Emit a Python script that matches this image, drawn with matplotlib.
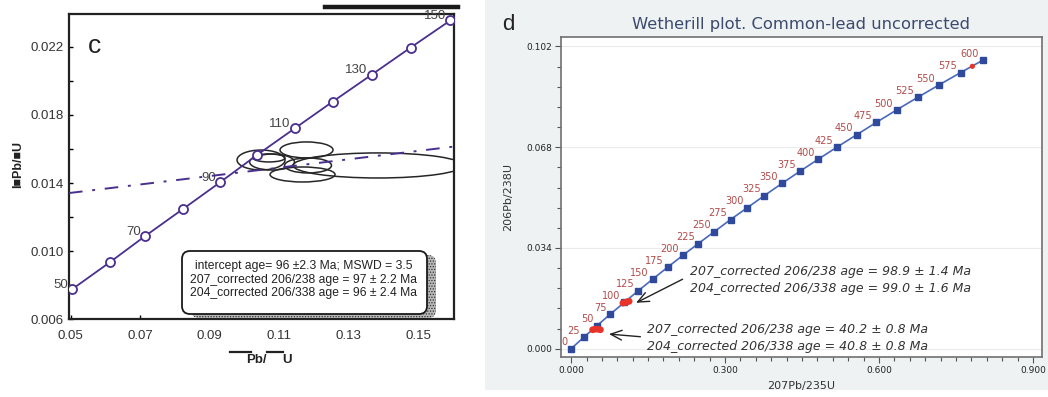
import numpy as np
import matplotlib
matplotlib.use("Agg")
import matplotlib.pyplot as plt
from matplotlib import ticker, font_manager
from matplotlib.patches import Ellipse, FancyBboxPatch, Rectangle
from matplotlib.lines import Line2D

names = {f.name for f in font_manager.fontManager.ttflist}
narrow = "Liberation Sans Narrow" if "Liberation Sans Narrow" in names else "Liberation Sans"
plt.rcParams["hatch.linewidth"] = 0.6

# ---- panel c : concordia, ages in Ma
c_age = [50, 60, 70, 80, 90, 100, 110, 120, 130, 140, 150]
c_x = [0.0505, 0.0612, 0.0715, 0.0822, 0.0929, 0.1035, 0.1144, 0.1254, 0.1366, 0.1478, 0.1592]
c_y = [0.00778, 0.00934, 0.01090, 0.01246, 0.01403, 0.01563, 0.01720, 0.01878, 0.02036, 0.02195, 0.02354]
c_labelled = [50, 70, 90, 110, 130, 150]
# discordia (dash-dot)
disc_x = [0.0495, 0.1603]
disc_y = [0.01341, 0.01614]
# error ellipses
ell_x = [0.10475, 0.10705, 0.11784, 0.11669, 0.13841, 0.11827, 0.10792]
ell_y = [0.01535, 0.01547, 0.01594, 0.01450, 0.01503, 0.01503, 0.01523]
ell_w = [0.0138, 0.0092, 0.01525, 0.0187, 0.0489, 0.0135, 0.0129]
ell_h = [0.00117, 0.00047, 0.00094, 0.00088, 0.00147, 0.00088, 0.00094]
c_xticks = [0.05, 0.07, 0.09, 0.11, 0.13, 0.15]
c_yticks = [0.006, 0.010, 0.014, 0.018, 0.022]
c_yminor = [0.008, 0.012, 0.016, 0.020]
c_box_lines = ["intercept age= 96 \u00b12.3 Ma; MSWD = 3.5",
               "207_corrected 206/238 age = 97 \u00b1 2.2 Ma",
               "204_corrected 206/338 age = 96 \u00b1 2.4 Ma"]

# ---- panel d : Wetherill concordia every 25 Ma
d_age = [0, 25, 50, 75, 100, 125, 150, 175, 200, 225, 250, 275, 300,
         325, 350, 375, 400, 425, 450, 475, 500, 525, 550, 575, 600]
d_x = [0.0, 0.0249, 0.0505, 0.0767, 0.1035, 0.1311, 0.1592, 0.1881, 0.2177, 0.2480,
       0.2790, 0.3108, 0.3434, 0.3768, 0.4110, 0.4460, 0.4819, 0.5186, 0.5563, 0.5949,
       0.6344, 0.6750, 0.7165, 0.7590, 0.8025]
d_y = [0.0, 0.0039, 0.0078, 0.0117, 0.0156, 0.0196, 0.0235, 0.0275, 0.0315, 0.0355,
       0.0395, 0.0436, 0.0476, 0.0517, 0.0558, 0.0599, 0.0640, 0.0681, 0.0722, 0.0764,
       0.0806, 0.0848, 0.0890, 0.0932, 0.0974]
red_x = [0.042, 0.047, 0.052, 0.057, 0.101, 0.105, 0.109, 0.113]
red_y = [0.0064, 0.0066, 0.0066, 0.0064, 0.0154, 0.0156, 0.0158, 0.0160]
red_small_x = [0.7818]
red_small_y = [0.0953]
note1 = ["207_corrected 206/238 age = 98.9 \u00b1 1.4 Ma",
         "204_corrected 206/338 age = 99.0 \u00b1 1.6 Ma"]
note1_x, note1_y = 0.2313, [0.02592, 0.02031]
arrow1_head, arrow1_tail = (0.1266, 0.01549), (0.2172, 0.02345)
note2 = ["207_corrected 206/238 age = 40.2 \u00b1 0.8 Ma",
         "204_corrected 206/338 age = 40.8 \u00b1 0.8 Ma"]
note2_x, note2_y = 0.1469, [0.00651, 0.0009]
arrow2_head, arrow2_tail = (0.0738, 0.00494), (0.1350, 0.00404)

W, H = 1048, 397
purple = "#4a2f8f"

fig = plt.figure(figsize=(W/100, H/100), dpi=100)
fig.patches.append(Rectangle((485/W, 7/H), 563/W, 390/H, transform=fig.transFigure,
                             facecolor="#eef2f3", edgecolor="none", zorder=-10))

# ================= panel c
axc = fig.add_axes([69/W, 1-319.3/H, 385/W, 305.3/H])
axc.set_xlim(0.0495, 0.16027)
axc.set_ylim(0.006, 0.02392)
for x, y, w, h in zip(ell_x, ell_y, ell_w, ell_h):
    axc.add_patch(Ellipse((x, y), w, h, fill=False, ec="#262626", lw=1.1, zorder=3))
axc.plot(c_x, c_y, color=purple, lw=1.3, marker="o", ms=6.5, mfc="white",
         mec=purple, mew=1.3, zorder=4)
axc.plot(disc_x, disc_y, color=purple, lw=1.4, linestyle=(0, (7, 5, 1.5, 5)), zorder=5)
for a, x, y in zip(c_age, c_x, c_y):
    if a in c_labelled:
        axc.annotate(str(a), (x, y), xytext=(-3, 3), textcoords="offset points",
                     ha="right", va="center", fontsize=9.5, color="#444444", family=narrow)
axc.set_xticks(c_xticks, ["%.2f" % v for v in c_xticks])
axc.set_yticks(c_yticks, ["%.3f" % v for v in c_yticks])
axc.yaxis.set_minor_locator(ticker.FixedLocator(c_yminor))
axc.tick_params(which="both", direction="in", length=3, width=1, labelsize=9.5,
                labelcolor="#333333")
axc.tick_params(axis="x", pad=8)
axc.tick_params(axis="y", pad=4)
for lab in axc.get_xticklabels() + axc.get_yticklabels():
    lab.set_family(narrow)
for s in axc.spines.values():
    s.set_linewidth(1.6)
    s.set_color("#222222")
axc.text(0.0675, 0.895, "c", transform=axc.transAxes, fontsize=19, ha="center",
         va="center", family="Liberation Sans", color="#222222")

fig.text(18/W, 1-165/H, "I\u25a0Pb/\u25a0U", rotation=90, ha="center", va="center",
         fontsize=9, fontweight="bold", family=["Liberation Sans", "DejaVu Sans"], color="#222222")
fig.text(256/W, 1-360/H, "Pb/", ha="center", va="center", fontsize=9.5,
         fontweight="bold", family=narrow, color="#222222")
fig.text(287/W, 1-360/H, "U", ha="center", va="center", fontsize=9.5,
         fontweight="bold", family=narrow, color="#222222")
fig.add_artist(Line2D([230/W, 250.7/W], [1-351.7/H]*2, color="#222222", lw=1.6))
fig.add_artist(Line2D([266.7/W, 283.3/W], [1-351.7/H]*2, color="#222222", lw=1.6))
fig.add_artist(Line2D([325/W, 458/W], [1-7/H]*2, color="#1a1a1a", lw=3.2))

# legend-like box with shadow
shadow = FancyBboxPatch((1.82+0.09, 0.83-0.04), 2.45, 0.63,
                        boxstyle="round,pad=0,rounding_size=0.08",
                        transform=fig.dpi_scale_trans, facecolor="#b8b8b8",
                        edgecolor="#333333", hatch="......", lw=0, zorder=5)
box = FancyBboxPatch((1.82, 0.83), 2.45, 0.63, boxstyle="round,pad=0,rounding_size=0.08",
                     transform=fig.dpi_scale_trans, facecolor="white",
                     edgecolor="#1a1a1a", lw=1.3, zorder=6)
fig.add_artist(shadow)
fig.add_artist(box)
for line, ypx in zip(c_box_lines, [266, 279.5, 293]):
    fig.text(304/W, 1-ypx/H, line, ha="center", va="center", fontsize=8.7,
             family=narrow, color="#222222", zorder=7)

# ================= panel d
axd = fig.add_axes([561/W, 1-356.7/H, 481/W, 319.4/H])
axd.set_xlim(-0.0197, 0.9175)
axd.set_ylim(-0.0027, 0.1051)
axd.set_axisbelow(True)
axd.grid(axis="y", which="major", color="#ebebeb", lw=0.8)
axd.plot(d_x, d_y, color="#4a69bd", lw=1.2, marker="s", ms=4, mfc="#2f4a9c",
         mec="#2f4a9c", zorder=3)
for a, x, y in zip(d_age, d_x, d_y):
    axd.annotate(str(a), (x, y), xytext=(-2.8, 4.6), textcoords="offset points",
                 ha="right", va="center", fontsize=7, color="#b24a4a", clip_on=True)
axd.scatter(red_x, red_y, s=24, color="#e8332a", edgecolors="none", zorder=4)
axd.scatter(red_small_x, red_small_y, s=14, color="#e8332a", edgecolors="none", zorder=4)

for line, y in zip(note1, note1_y):
    axd.text(note1_x, y, line, fontsize=9, style="italic", ha="left", va="center", color="#333333")
for line, y in zip(note2, note2_y):
    axd.text(note2_x, y, line, fontsize=9, style="italic", ha="left", va="center", color="#333333")
arrow_style = dict(arrowstyle="->,head_length=0.8,head_width=0.35", color="#222222",
                   lw=1.0, shrinkA=0, shrinkB=0)
axd.annotate("", xy=arrow1_head, xytext=arrow1_tail, arrowprops=arrow_style)
axd.annotate("", xy=arrow2_head, xytext=arrow2_tail, arrowprops=arrow_style)

axd.xaxis.set_major_locator(ticker.MultipleLocator(0.3))
axd.xaxis.set_minor_locator(ticker.MultipleLocator(0.03))
axd.yaxis.set_major_locator(ticker.MultipleLocator(0.034))
axd.yaxis.set_minor_locator(ticker.MultipleLocator(0.0068))
axd.xaxis.set_major_formatter(ticker.FormatStrFormatter("%.3f"))
axd.yaxis.set_major_formatter(ticker.FormatStrFormatter("%.3f"))
axd.tick_params(which="both", direction="out", color="#555555", labelcolor="#222222",
                labelsize=6.5, width=0.8)
axd.tick_params(which="major", length=4, pad=2.5)
axd.tick_params(which="minor", length=2.6)
for s in axd.spines.values():
    s.set_color("#707070")
    s.set_linewidth(1.2)
axd.set_xlabel("207Pb/235U", fontsize=8, color="#333333")
axd.xaxis.set_label_coords(0.5, -0.075)
axd.set_ylabel("206Pb/238U", fontsize=8, color="#333333")
axd.yaxis.set_label_coords(-0.1, 0.5)

fig.text(508/W, 1-25/H, "d", fontsize=16, ha="center", va="center",
         family="Liberation Sans", color="#222222")
fig.text(801.5/W, 1-25/H, "Wetherill plot. Common-lead uncorrected", fontsize=11.8,
         ha="center", va="center", color="#3c4b6e")
fig.add_artist(Rectangle((485/W, 0), 563/W, 7/H, transform=fig.transFigure,
                         facecolor="white", edgecolor="none", zorder=20))

fig.savefig("out.png", dpi=100)
